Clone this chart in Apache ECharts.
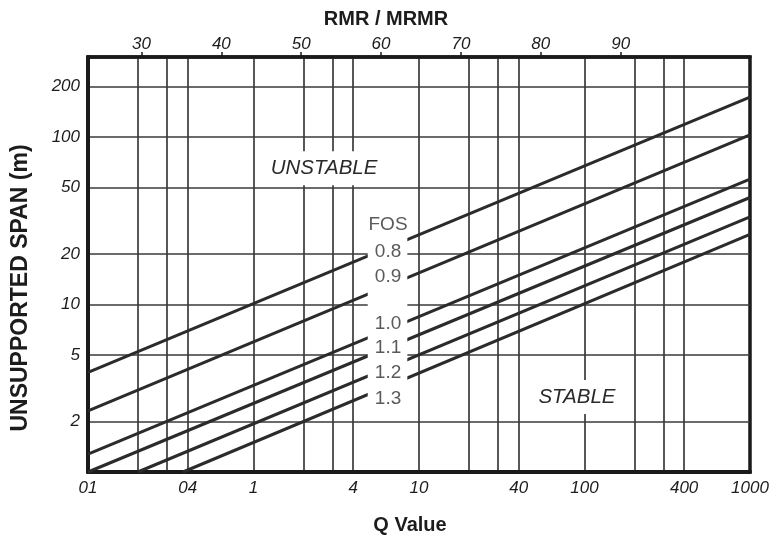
<!DOCTYPE html>
<html>
<head>
<meta charset="utf-8">
<script src="https://cdn.jsdelivr.net/npm/echarts@6/dist/echarts.min.js"></script>
<style>
  html, body { margin: 0; padding: 0; background: #ffffff; }
  #chart { width: 774px; height: 537px; }
</style>
</head>
<body>
<div id="chart"></div>
<script>
// Q value axis (log scale): labelled values and extra grid lines
const qRange = [0.1, 1000];
const qLabelValues = [0.1, 0.4, 1, 4, 10, 40, 100, 400, 1000];
const qLabelTexts = ['01', '04', '1', '4', '10', '40', '100', '400', '1000'];
const qGridValues = [0.2, 0.3, 0.4, 1, 2, 3, 4, 10, 20, 30, 40, 100, 200, 300, 400];

// Unsupported span axis (log scale, metres)
const spanRange = [1, 300];
const spanTickValues = [2, 5, 10, 20, 50, 100, 200];

// RMR / MRMR scale along the top edge
const rmrRange = [23.3, 106.2];
const rmrTickValues = [30, 40, 50, 60, 70, 80, 90];

// Factor-of-safety lines: start and end points [Q, span]
const fosNames = ['0.8', '0.9', '1.0', '1.1', '1.2', '1.3'];
const fosStart = [[0.1, 3.93], [0.1, 2.32], [0.1, 1.28], [0.1, 1.0], [0.2, 1.0], [0.375, 1.0]];
const fosEnd = [[1000, 173], [1000, 103], [1000, 56], [1000, 43.5], [1000, 33.3], [1000, 26.2]];

// Where the FOS captions sit (Q column and span of each caption)
const fosCaptionQ = 6.5;
const fosHeaderSpan = 29.7;
const fosCaptionSpan = [20.5, 14.7, 7.7, 5.53, 3.92, 2.74];
const fosGapQ = [4.9, 8.5];
const fosGapSpan = [2.3, 34];

// Zone captions
const zoneNames = ['UNSTABLE', 'STABLE'];
const zoneAnchor = [[2.67, 65], [90, 2.8]];

const FONT = '"Liberation Sans", Arial, sans-serif';
const INK = '#1c1c1c';
const GRID = '#3a3a3a';

const chart = echarts.init(document.getElementById('chart'), null, { renderer: 'canvas' });

const series = fosNames.map((name, i) => ({
  name: 'FOS ' + name,
  type: 'line',
  xAxisIndex: 0,
  yAxisIndex: 0,
  data: [fosStart[i], fosEnd[i]],
  showSymbol: false,
  silent: true,
  z: 3,
  lineStyle: { color: '#2b2b2b', width: 3 }
}));

chart.setOption({
  animation: false,
  backgroundColor: '#ffffff',
  grid: {
    left: 88, right: 24, top: 57, bottom: 65,
    outerBoundsMode: 'none',
    containLabel: false,
    show: true,
    borderColor: '#1a1a1a',
    borderWidth: 3.5,
    backgroundColor: 'transparent'
  },
  xAxis: [
    {
      type: 'log',
      logBase: 10,
      min: qRange[0],
      max: qRange[1],
      position: 'bottom',
      name: 'Q Value',
      nameLocation: 'middle',
      nameGap: 43,
      nameTextStyle: { fontFamily: FONT, fontWeight: 'bold', fontSize: 20, color: INK,
        padding: [0, 18, 0, 0] },
      axisLine: { show: true, lineStyle: { color: '#1a1a1a', width: 4 } },
      axisTick: { show: false, customValues: qGridValues },
      axisLabel: {
        customValues: qLabelValues,
        margin: 8,
        fontFamily: FONT,
        fontStyle: 'italic',
        fontSize: 17,
        color: INK,
        formatter: v => {
          const k = qLabelValues.findIndex(q => Math.abs(q - v) / q < 1e-6);
          return k >= 0 ? qLabelTexts[k] : '';
        }
      },
      splitLine: { show: true, lineStyle: { color: GRID, width: 1.7 } }
    },
    {
      type: 'value',
      min: rmrRange[0],
      max: rmrRange[1],
      position: 'top',
      name: 'RMR / MRMR',
      nameLocation: 'middle',
      nameGap: 28,
      nameTextStyle: { fontFamily: FONT, fontWeight: 'bold', fontSize: 20, color: INK,
        padding: [0, 66, 0, 0] },
      axisLine: { show: true, lineStyle: { color: '#1a1a1a', width: 3.5 } },
      axisTick: { show: true, inside: false, length: 5, customValues: rmrTickValues,
        lineStyle: { color: '#1a1a1a', width: 1.5 } },
      axisLabel: {
        customValues: rmrTickValues,
        margin: 4,
        fontFamily: FONT,
        fontStyle: 'italic',
        fontSize: 17,
        color: INK
      },
      splitLine: { show: false }
    }
  ],
  yAxis: {
    type: 'log',
    logBase: 10,
    min: spanRange[0],
    max: spanRange[1],
    axisLine: { show: true, lineStyle: { color: '#1a1a1a', width: 4 } },
    axisTick: { show: false, customValues: spanTickValues },
    axisLabel: {
      customValues: spanTickValues,
      margin: 8,
      fontFamily: FONT,
      fontStyle: 'italic',
      fontSize: 17,
      color: INK
    },
    splitLine: { show: true, lineStyle: { color: GRID, width: 1.7 } }
  },
  series: series
});

// Captions placed in data coordinates on the Q / span plane
const toPx = p => chart.convertToPixel({ xAxisIndex: 0, yAxisIndex: 0 }, p);

const gapA = toPx([fosGapQ[0], fosGapSpan[1]]);
const gapB = toPx([fosGapQ[1], fosGapSpan[0]]);

const captionStyle = {
  fontFamily: FONT,
  fontSize: 19,
  fill: '#5a5a5a',
  align: 'center',
  verticalAlign: 'middle'
};

const graphics = [
  {
    type: 'rect',
    z: 50,
    silent: true,
    shape: { x: gapA[0], y: gapA[1], width: gapB[0] - gapA[0], height: gapB[1] - gapA[1] },
    style: { fill: '#ffffff' }
  },
  // vertical axis title
  {
    type: 'text',
    z: 60,
    silent: true,
    x: 21,
    y: 288,
    rotation: Math.PI / 2,
    style: {
      text: 'UNSUPPORTED SPAN (m)',
      fontFamily: FONT,
      fontWeight: 'bold',
      fontSize: 23,
      fill: INK,
      align: 'center',
      verticalAlign: 'middle'
    }
  }
];

const headerPt = toPx([fosCaptionQ, fosHeaderSpan]);
graphics.push({
  type: 'text', z: 60, silent: true,
  x: headerPt[0], y: headerPt[1],
  style: Object.assign({ text: 'FOS' }, captionStyle)
});
fosNames.forEach((name, i) => {
  const p = toPx([fosCaptionQ, fosCaptionSpan[i]]);
  graphics.push({
    type: 'text', z: 60, silent: true,
    x: p[0], y: p[1],
    style: Object.assign({ text: name }, captionStyle)
  });
});

zoneNames.forEach((name, i) => {
  const p = toPx(zoneAnchor[i]);
  graphics.push({
    type: 'text', z: 60, silent: true,
    x: p[0], y: p[1],
    style: {
      text: name,
      fontFamily: FONT,
      fontStyle: 'italic',
      fontSize: 20.5,
      fill: '#2a2a2a',
      align: 'center',
      verticalAlign: 'middle',
      backgroundColor: '#ffffff',
      padding: [7, 5]
    }
  });
});

chart.setOption({ graphic: graphics });
</script>
</body>
</html>
